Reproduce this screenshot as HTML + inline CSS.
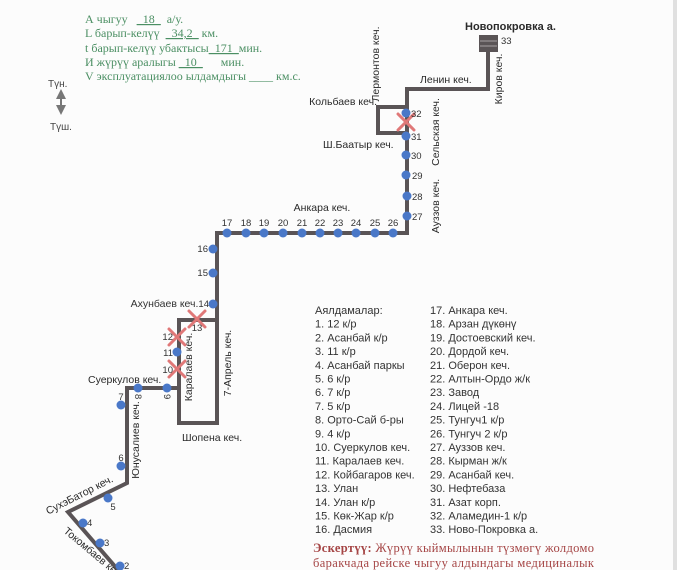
<!DOCTYPE html>
<html><head><meta charset="utf-8">
<style>
html,body{margin:0;padding:0;background:#fcfcfc;}
svg{display:block}
.pre text{white-space:pre;}
</style></head>
<body>
<svg width="677" height="570" viewBox="0 0 677 570" xmlns="http://www.w3.org/2000/svg">
<rect width="677" height="570" fill="#fcfcfc"/>
<rect x="673" y="0" width="4" height="570" fill="#e0e0e0"/>

<!-- header text -->
<g class="pre" font-family="'Liberation Serif', serif" font-size="12" fill="#4b8f63" style="white-space:pre">
  <text x="85" y="23" style="white-space:pre">А чыгуу   <tspan text-decoration="underline">_18_</tspan>  а/у.</text>
  <text x="85" y="37" style="white-space:pre">L барып-келүү  <tspan text-decoration="underline">_34,2_</tspan> км.</text>
  <text x="85" y="52" style="white-space:pre">t барып-келүү убактысы<tspan text-decoration="underline">_171_</tspan>мин.</text>
  <text x="85" y="66" style="white-space:pre">И жүрүү аралыгы <tspan text-decoration="underline">_10_</tspan>      мин.</text>
  <text x="85" y="80" style="white-space:pre">V эксплуатациялоо ылдамдыгы ____ км.с.</text>
</g>

<!-- north/south arrow -->
<g font-family="'Liberation Sans', sans-serif" font-size="10" fill="#444">
  <text x="48" y="87">Түн.</text>
  <text x="50" y="130">Түш.</text>
</g>
<g fill="#777" stroke="#777">
  <line x1="61" y1="92" x2="61" y2="110" stroke-width="2"/>
  <polygon points="61,89 56,99 66,99" stroke="none"/>
  <polygon points="61,115 56,105 66,105" stroke="none"/>
</g>

<!-- route lines -->
<g fill="none" stroke="#5a5456" stroke-width="4" stroke-linejoin="miter">
  <path d="M125,578 L68,512 L127,483 L127,388 L179,388"/>
  <path d="M179,320 H217 V423 H179 Z"/>
  <path d="M217,320 V233 H407 V89 H488 V52"/>
  <path d="M406,107 H378 V133 H406"/>
</g>
<!-- terminal box -->
<rect x="479" y="35" width="19" height="17" fill="#5a5456"/>
<line x1="480" y1="41" x2="497" y2="41" stroke="#a8a2a4" stroke-width="1"/>
<line x1="480" y1="46" x2="497" y2="46" stroke="#a8a2a4" stroke-width="1"/>

<!-- stops -->
<g fill="#4a78c8">
  <circle cx="227" cy="233" r="4.5"/><circle cx="246" cy="233" r="4.5"/>
  <circle cx="264" cy="233" r="4.5"/><circle cx="283" cy="233" r="4.5"/>
  <circle cx="302" cy="233" r="4.5"/><circle cx="320" cy="233" r="4.5"/>
  <circle cx="338" cy="233" r="4.5"/><circle cx="356" cy="233" r="4.5"/>
  <circle cx="375" cy="233" r="4.5"/><circle cx="393" cy="233" r="4.5"/>
  <circle cx="407" cy="216" r="4.5"/><circle cx="407" cy="196" r="4.5"/>
  <circle cx="406" cy="175" r="4.5"/><circle cx="406" cy="155" r="4.5"/>
  <circle cx="406" cy="136" r="4.5"/><circle cx="406" cy="113" r="4.5"/>
  <circle cx="213" cy="249" r="4.5"/><circle cx="213" cy="273" r="4.5"/>
  <circle cx="213" cy="304" r="4.5"/>
  <circle cx="177" cy="352" r="4.5"/>
  <circle cx="167" cy="388" r="4.5"/><circle cx="138" cy="388" r="4.5"/>
  <circle cx="121" cy="405" r="4.5"/><circle cx="121" cy="466" r="4.5"/>
  <circle cx="108" cy="498" r="4.5"/><circle cx="83" cy="523" r="4.5"/>
  <circle cx="100" cy="543" r="4.5"/><circle cx="120" cy="566" r="4.5"/>
</g>

<!-- red X marks -->
<g stroke="#e07878" stroke-width="3" stroke-linecap="round">
  <path d="M398,114 L414,130 M414,114 L398,130"/>
  <path d="M189,311 L205,327 M205,311 L189,327"/>
  <path d="M169,329 L185,345 M185,329 L169,345"/>
  <path d="M169,361 L185,377 M185,361 L169,377"/>
</g>

<!-- stop numbers -->
<g font-family="'Liberation Sans', sans-serif" font-size="9.5" fill="#333">
  <g text-anchor="middle">
    <text x="227" y="226">17</text><text x="246" y="226">18</text>
    <text x="264" y="226">19</text><text x="283" y="226">20</text>
    <text x="302" y="226">21</text><text x="320" y="226">22</text>
    <text x="338" y="226">23</text><text x="356" y="226">24</text>
    <text x="375" y="226">25</text><text x="393" y="226">26</text>
    <text x="197" y="331">13</text>
    <text x="121" y="400">7</text>
    <text x="121" y="461">6</text>
    <text x="113" y="510">5</text>
  </g>
  <text x="412" y="220">27</text><text x="412" y="200">28</text>
  <text x="412" y="179">29</text><text x="411" y="159">30</text>
  <text x="411" y="140">31</text><text x="411" y="117">32</text>
  <text x="501" y="44">33</text>
  <g text-anchor="end">
    <text x="208" y="252">16</text>
    <text x="208" y="276">15</text>
    <text x="209" y="307"><tspan font-size="10.5">Ахунбаев кеч.</tspan>14</text>
    <text x="173" y="340">12</text>
    <text x="173" y="356">11</text>
    <text x="173" y="373">10</text>
  </g>
  <text transform="translate(164,394) rotate(90)">9</text>
  <text transform="translate(135,394) rotate(90)">8</text>
  <text x="87" y="526">4</text>
  <text x="104" y="546">3</text>
  <text x="124" y="569">2</text>
</g>

<!-- street labels -->
<g font-family="'Liberation Sans', sans-serif" font-size="10.5" fill="#2a2a2a">
  <text x="322" y="211" text-anchor="middle">Анкара кеч.</text>
  <text x="377" y="105" text-anchor="end">Кольбаев кеч.</text>
  <text x="323" y="148">Ш.Баатыр кеч.</text>
  <text x="420" y="83">Ленин кеч.</text>
  <text transform="translate(379,64) rotate(-90)" text-anchor="middle">Лермонтов кеч.</text>
  <text transform="translate(439,132) rotate(-90)" text-anchor="middle">Сельская кеч.</text>
  <text transform="translate(439,206) rotate(-90)" text-anchor="middle">Ауззов кеч.</text>
  <text transform="translate(502,79) rotate(-90)" text-anchor="middle">Киров кеч.</text>
  <text transform="translate(192,367) rotate(-90)" text-anchor="middle">Каралаев кеч.</text>
  <text transform="translate(231,363) rotate(-90)" text-anchor="middle">7-Апрель кеч.</text>
  <text x="182" y="441">Шопена кеч.</text>
  <text x="88" y="383">Суеркулов кеч.</text>
  <text transform="translate(139,440) rotate(-90)" text-anchor="middle">Юнусалиев кеч.</text>
  <text transform="translate(81,498) rotate(-27)" text-anchor="middle">СухэБатор кеч.</text>
  <text transform="translate(63,532) rotate(40)">Токомбаев кеч.</text>
  <text x="465" y="30" font-weight="bold" font-size="11">Новопокровка а.</text>
</g>

<!-- stop list -->
<g font-family="'Liberation Sans', sans-serif" font-size="11" fill="#333">
  <text x="315" y="314">Аялдамалар:</text>
  <text x="315" y="327.7">1. 12 к/р</text>
  <text x="315" y="341.4">2. Асанбай к/р</text>
  <text x="315" y="355.1">3. 11 к/р</text>
  <text x="315" y="368.8">4. Асанбай паркы</text>
  <text x="315" y="382.5">5. 6 к/р</text>
  <text x="315" y="396.2">6. 7 к/р</text>
  <text x="315" y="409.9">7. 5 к/р</text>
  <text x="315" y="423.6">8. Орто-Сай б-ры</text>
  <text x="315" y="437.3">9. 4 к/р</text>
  <text x="315" y="451">10. Суеркулов кеч.</text>
  <text x="315" y="464.7">11. Каралаев кеч.</text>
  <text x="315" y="478.4">12. Койбагаров кеч.</text>
  <text x="315" y="492.1">13. Улан</text>
  <text x="315" y="505.8">14. Улан к/р</text>
  <text x="315" y="519.5">15. Көк-Жар к/р</text>
  <text x="315" y="533.2">16. Дасмия</text>

  <text x="430" y="314">17. Анкара кеч.</text>
  <text x="430" y="327.7">18. Арзан дүкөнү</text>
  <text x="430" y="341.4">19. Достоевский кеч.</text>
  <text x="430" y="355.1">20. Дордой кеч.</text>
  <text x="430" y="368.8">21. Оберон кеч.</text>
  <text x="430" y="382.5">22. Алтын-Ордо ж/к</text>
  <text x="430" y="396.2">23. Завод</text>
  <text x="430" y="409.9">24. Лицей -18</text>
  <text x="430" y="423.6">25. Тунгуч1 к/р</text>
  <text x="430" y="437.3">26. Тунгуч 2 к/р</text>
  <text x="430" y="451">27. Ауззов кеч.</text>
  <text x="430" y="464.7">28. Кырман ж/к</text>
  <text x="430" y="478.4">29. Асанбай кеч.</text>
  <text x="430" y="492.1">30. Нефтебаза</text>
  <text x="430" y="505.8">31. Азат корп.</text>
  <text x="430" y="519.5">32. Аламедин-1 к/р</text>
  <text x="430" y="533.2">33. Ново-Покровка а.</text>
</g>

<!-- note -->
<g font-family="'Liberation Serif', serif" font-size="12.5" fill="#a54545">
  <text x="313" y="552" textLength="281" lengthAdjust="spacing"><tspan font-weight="bold">Эскертүү:</tspan> Жүрүү кыймылынын түзмөгү жолдомо</text>
  <text x="313" y="567" textLength="281" lengthAdjust="spacing">баракчада рейске чыгуу алдындагы медициналык</text>
</g>
</svg>
</body></html>
